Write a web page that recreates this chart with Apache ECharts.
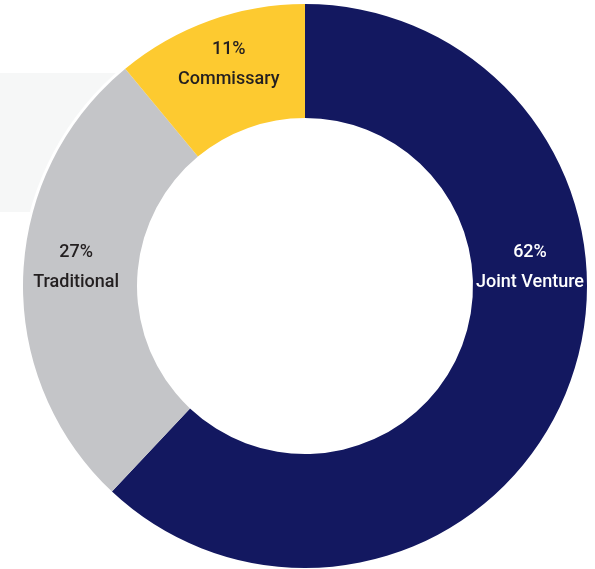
<!DOCTYPE html>
<html>
<head>
<meta charset="utf-8">
<script src="https://cdn.jsdelivr.net/npm/echarts@6/dist/echarts.min.js"></script>
<style>html,body{margin:0;padding:0;background:#fff}#c{width:595px;height:569px}</style>
</head>
<body>
<div id="c"></div>
<script>
const categories = ['Joint Venture', 'Traditional', 'Commissary'];
const values = [62, 27, 11];
const colors = ['#131860', '#c4c5c8', '#fdca30'];
const labelColors = ['#ffffff', '#231f20', '#231f20'];
const labelShift = [[13, -102], [-1, -11], [1, -7]];

const chart = echarts.init(document.getElementById('c'));
chart.setOption({
  animation: false,
  graphic: [{
    type: 'rect', z: -10,
    shape: { x: 0, y: 73, width: 125, height: 139 },
    style: { fill: '#f6f7f7' }
  }],
  series: [{
    type: 'pie',
    center: [305, 286],
    radius: [168, 282],
    startAngle: 90,
    clockwise: true,
    z: 5,
    data: categories.map((c, i) => ({
      name: c, value: values[i],
      itemStyle: { color: colors[i] },
      label: { color: labelColors[i] }
    })),
    label: {
      show: true,
      position: 'inside',
      formatter: p => p.value + '%\n' + p.name,
      fontFamily: 'Roboto, sans-serif',
      fontWeight: 500,
      fontSize: 18,
      lineHeight: 30,
      align: 'center'
    },
    labelLine: { show: false },
    labelLayout: p => ({ dx: labelShift[p.dataIndex][0], dy: labelShift[p.dataIndex][1] })
  }, {
    type: 'pie', silent: true, z: 4,
    center: [305, 286], radius: [282, 285],
    label: { show: false }, labelLine: { show: false },
    itemStyle: { color: '#ffffff' },
    data: [{ value: 1, name: '' }]
  }]
});
</script>
</body>
</html>
